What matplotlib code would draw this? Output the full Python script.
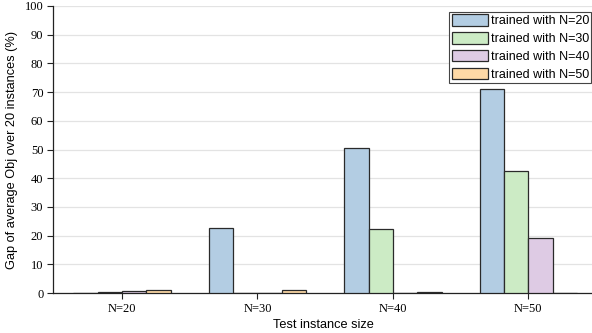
import numpy as np
import matplotlib
matplotlib.use("Agg")
import matplotlib.pyplot as plt

# --- data ---
test_sizes = ["N=20", "N=30", "N=40", "N=50"]
series_labels = ["trained with N=20", "trained with N=30",
                 "trained with N=40", "trained with N=50"]
gap_n20 = [0.1, 22.5, 50.5, 71.2]
gap_n30 = [0.3, 0.1, 22.3, 42.6]
gap_n40 = [0.8, 0.1, 0.1, 19.3]
gap_n50 = [1.0, 1.1, 0.5, 0.1]
y_ticks = [0, 10, 20, 30, 40, 50, 60, 70, 80, 90, 100]

colors = ["#b3cde3", "#ccebc5", "#decbe4", "#fed9a6"]

fig = plt.figure(figsize=(5.92, 3.33), dpi=100)
ax = fig.add_axes([0.0895, 0.12, 0.915, 0.862])

x = np.arange(len(test_sizes))
w = 0.18
all_series = [gap_n20, gap_n30, gap_n40, gap_n50]
for i, (vals, lab) in enumerate(zip(all_series, series_labels)):
    ax.bar(x + (i - 1.5) * w, vals, w, color=colors[i], edgecolor="#2a2a2a",
           linewidth=0.9, label=lab, zorder=3)

ax.set_xlim(-0.51, 3.49)
ax.set_ylim(0, 100)
ax.set_yticks(y_ticks)
ax.set_xticks(x)
ax.set_xticklabels(test_sizes)
for t in ax.get_xticklabels() + ax.get_yticklabels():
    t.set_family("Liberation Serif")
    t.set_fontsize(9)
ax.tick_params(length=4, width=0.8, color="#222222", pad=3)

ax.yaxis.grid(True, color="#e3e3e3", linewidth=0.9, zorder=0)
ax.set_axisbelow(True)
for s in ["top", "right"]:
    ax.spines[s].set_visible(False)
for s in ["left", "bottom"]:
    ax.spines[s].set_color("#222222")
    ax.spines[s].set_linewidth(0.9)

ax.set_ylabel("Gap of average Obj over 20 instances (%)",
              family="Liberation Sans", fontsize=9.2, labelpad=5)
ax.set_xlabel("Test instance size", family="Liberation Sans", fontsize=9.2,
              labelpad=3)

# legend pinned to the figure's right edge like the reference
leg = ax.legend(loc="upper right", bbox_to_anchor=(0.999, 0.964),
                bbox_transform=fig.transFigure,
                prop={"family": "Liberation Sans", "size": 9},
                fancybox=False, framealpha=1, edgecolor="#444444",
                handlelength=2.9, handleheight=1.0, handletextpad=0.2,
                labelspacing=0.4, borderpad=0.2, borderaxespad=0.0)
leg.get_frame().set_linewidth(0.8)

plt.savefig("out.png", dpi=100)
